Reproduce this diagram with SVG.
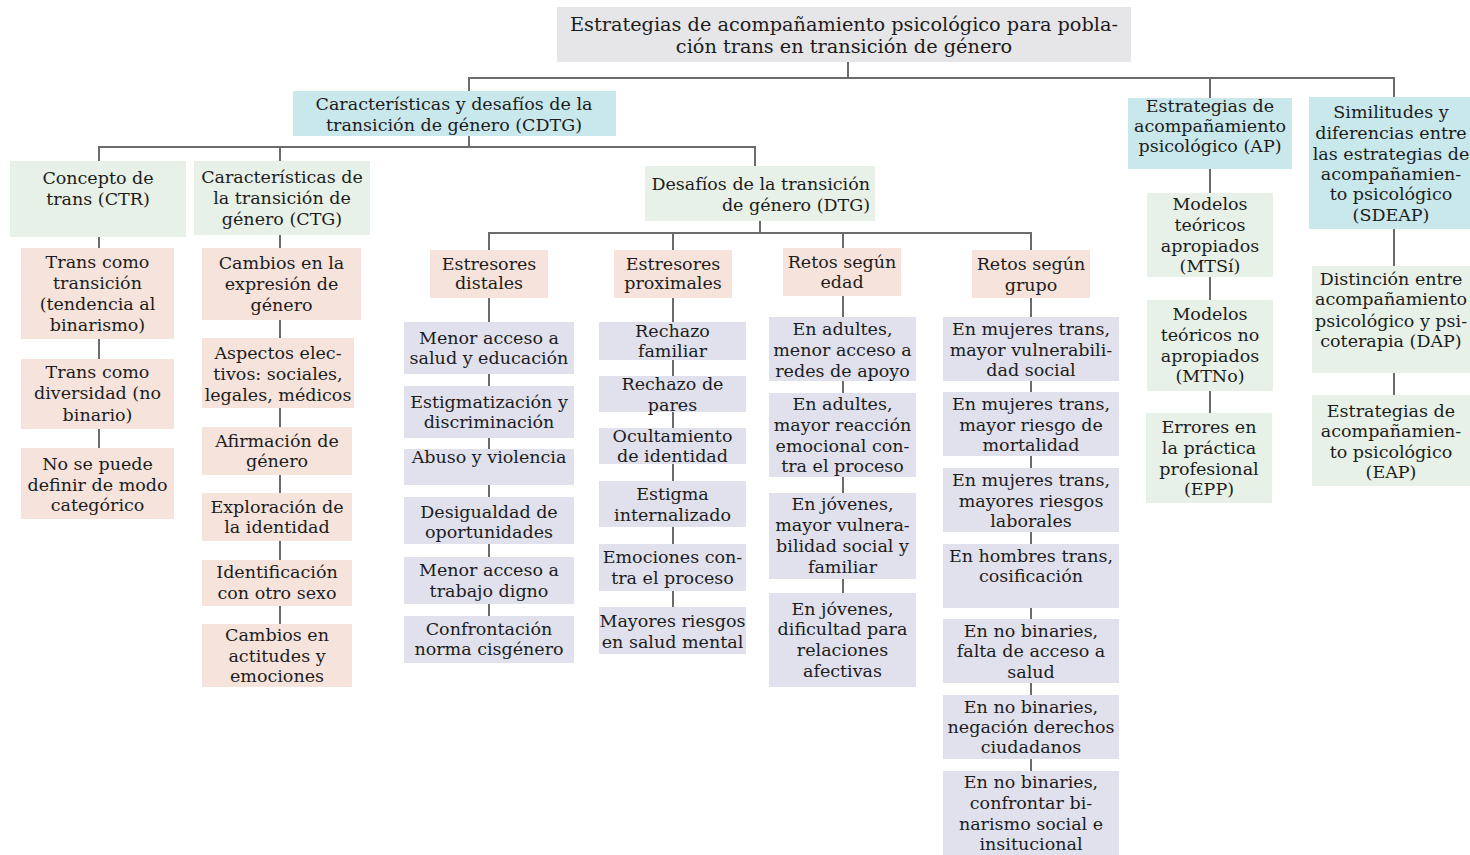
<svg xmlns="http://www.w3.org/2000/svg" width="1470" height="855" viewBox="0 0 1470 855">
<style>
.t{font-family:"DejaVu Serif","Liberation Serif",serif;font-size:17.5px;fill:#1c1c1c;text-anchor:middle}
.big{font-size:19.3px}
.e{text-anchor:end}
.gray{fill:#e6e6e8}.blue{fill:#c9e8ec}.green{fill:#e8f1e7}.peach{fill:#f6e4dc}.lav{fill:#e1e1ed}
.c{stroke:#6b6b6b;stroke-width:2;fill:none}
</style>
<rect width="1470" height="855" fill="#fff"/>
<g id="connectors" class="c">
<path d="M848,62V78M469,91V78H1394V97M1210,78V98"/>
<path d="M469,136V147M99,161V147H755V166M280,147V161"/>
<path d="M99,237V448M280,235V624"/>
<path d="M760,221V233M489,250V233H1031V250M673,233V250M843,233V248"/>
<path d="M489,298V616M673,298V607M843,296V593M1031,298V771"/>
<path d="M1210,169V413M1394,229V395"/>
</g>
<g id="title"><rect class="gray" x="557" y="7" width="574" height="55"/><text class="t big"><tspan x="844" y="31">Estrategias de acompañamiento psicológico para pobla-</tspan><tspan x="844" y="53">ción trans en transición de género</tspan></text></g>
<g id="cdtg"><rect class="blue" x="293" y="91" width="323" height="45"/><text class="t"><tspan x="454" y="110">Características y desafíos de la</tspan><tspan x="454" y="131">transición de género (CDTG)</tspan></text></g>
<g id="ap"><rect class="blue" x="1128" y="98" width="164" height="71"/><text class="t"><tspan x="1210" y="112">Estrategias de</tspan><tspan x="1210" y="132">acompañamiento</tspan><tspan x="1210" y="152">psicológico (AP)</tspan></text></g>
<g id="sdeap"><rect class="blue" x="1309" y="97" width="161" height="132"/><text class="t"><tspan x="1391" y="118">Similitudes y</tspan><tspan x="1391" y="139">diferencias entre</tspan><tspan x="1391" y="160">las estrategias de</tspan><tspan x="1391" y="180">acompañamien-</tspan><tspan x="1391" y="200">to psicológico</tspan><tspan x="1391" y="221">(SDEAP)</tspan></text></g>
<g id="ctr"><rect class="green" x="10" y="161" width="176" height="76"/><text class="t"><tspan x="98" y="184">Concepto de</tspan><tspan x="98" y="205">trans (CTR)</tspan></text></g>
<g id="ctg"><rect class="green" x="194" y="161" width="176" height="74"/><text class="t"><tspan x="282" y="183">Características de</tspan><tspan x="282" y="204">la transición de</tspan><tspan x="282" y="225">género (CTG)</tspan></text></g>
<g id="dtg"><rect class="green" x="645" y="166" width="230" height="55"/><text class="t e"><tspan x="870" y="190">Desafíos de la transición</tspan><tspan x="870" y="211">de género (DTG)</tspan></text></g>
<g id="ctr1"><rect class="peach" x="21" y="248" width="153" height="91"/><text class="t"><tspan x="97.5" y="268">Trans como</tspan><tspan x="97.5" y="289">transición</tspan><tspan x="97.5" y="310">(tendencia al</tspan><tspan x="97.5" y="331">binarismo)</tspan></text></g>
<g id="ctr2"><rect class="peach" x="21" y="359" width="153" height="70"/><text class="t"><tspan x="97.5" y="378">Trans como</tspan><tspan x="97.5" y="399">diversidad (no</tspan><tspan x="97.5" y="421">binario)</tspan></text></g>
<g id="ctr3"><rect class="peach" x="21" y="448" width="153" height="71"/><text class="t"><tspan x="97.5" y="470">No se puede</tspan><tspan x="97.5" y="491">definir de modo</tspan><tspan x="97.5" y="511">categórico</tspan></text></g>
<g id="ctg1"><rect class="peach" x="202" y="248" width="159" height="72"/><text class="t"><tspan x="281.5" y="269">Cambios en la</tspan><tspan x="281.5" y="290">expresión de</tspan><tspan x="281.5" y="311">género</tspan></text></g>
<g id="ctg2"><rect class="peach" x="202" y="338" width="152" height="70"/><text class="t"><tspan x="278" y="359">Aspectos elec-</tspan><tspan x="278" y="380">tivos: sociales,</tspan><tspan x="278" y="401">legales, médicos</tspan></text></g>
<g id="ctg3"><rect class="peach" x="202" y="427" width="150" height="48"/><text class="t"><tspan x="277" y="447">Afirmación de</tspan><tspan x="277" y="467">género</tspan></text></g>
<g id="ctg4"><rect class="peach" x="202" y="493" width="150" height="48"/><text class="t"><tspan x="277" y="513">Exploración de</tspan><tspan x="277" y="533">la identidad</tspan></text></g>
<g id="ctg5"><rect class="peach" x="202" y="560" width="150" height="46"/><text class="t"><tspan x="277" y="578">Identificación</tspan><tspan x="277" y="599">con otro sexo</tspan></text></g>
<g id="ctg6"><rect class="peach" x="202" y="624" width="150" height="63"/><text class="t"><tspan x="277" y="641">Cambios en</tspan><tspan x="277" y="662">actitudes y</tspan><tspan x="277" y="682">emociones</tspan></text></g>
<g id="distales"><rect class="peach" x="430" y="250" width="118" height="48"/><text class="t"><tspan x="489" y="270">Estresores</tspan><tspan x="489" y="289">distales</tspan></text></g>
<g id="proximales"><rect class="peach" x="614" y="250" width="118" height="48"/><text class="t"><tspan x="673" y="270">Estresores</tspan><tspan x="673" y="289">proximales</tspan></text></g>
<g id="edad"><rect class="peach" x="783" y="248" width="118" height="48"/><text class="t"><tspan x="842" y="268">Retos según</tspan><tspan x="842" y="288">edad</tspan></text></g>
<g id="grupo"><rect class="peach" x="972" y="250" width="118" height="48"/><text class="t"><tspan x="1031" y="270">Retos según</tspan><tspan x="1031" y="291">grupo</tspan></text></g>
<g id="d1"><rect class="lav" x="404" y="322" width="170" height="52"/><text class="t"><tspan x="489" y="344">Menor acceso a</tspan><tspan x="489" y="364">salud y educación</tspan></text></g>
<g id="d2"><rect class="lav" x="404" y="386" width="170" height="52"/><text class="t"><tspan x="489" y="408">Estigmatización y</tspan><tspan x="489" y="428">discriminación</tspan></text></g>
<g id="d3"><rect class="lav" x="404" y="449" width="170" height="36"/><text class="t"><tspan x="489" y="463">Abuso y violencia</tspan></text></g>
<g id="d4"><rect class="lav" x="404" y="497" width="170" height="47"/><text class="t"><tspan x="489" y="518">Desigualdad de</tspan><tspan x="489" y="538">oportunidades</tspan></text></g>
<g id="d5"><rect class="lav" x="404" y="557" width="170" height="47"/><text class="t"><tspan x="489" y="576">Menor acceso a</tspan><tspan x="489" y="597">trabajo digno</tspan></text></g>
<g id="d6"><rect class="lav" x="404" y="616" width="170" height="47"/><text class="t"><tspan x="489" y="635">Confrontación</tspan><tspan x="489" y="655">norma cisgénero</tspan></text></g>
<g id="p1"><rect class="lav" x="599" y="322" width="147" height="38"/><text class="t"><tspan x="672.5" y="337">Rechazo</tspan><tspan x="672.5" y="357">familiar</tspan></text></g>
<g id="p2"><rect class="lav" x="599" y="376" width="147" height="36"/><text class="t"><tspan x="672.5" y="390">Rechazo de</tspan><tspan x="672.5" y="411">pares</tspan></text></g>
<g id="p3"><rect class="lav" x="599" y="428" width="147" height="36"/><text class="t"><tspan x="672.5" y="442">Ocultamiento</tspan><tspan x="672.5" y="462">de identidad</tspan></text></g>
<g id="p4"><rect class="lav" x="599" y="481" width="147" height="46"/><text class="t"><tspan x="672.5" y="500">Estigma</tspan><tspan x="672.5" y="521">internalizado</tspan></text></g>
<g id="p5"><rect class="lav" x="599" y="544" width="147" height="47"/><text class="t"><tspan x="672.5" y="563">Emociones con-</tspan><tspan x="672.5" y="584">tra el proceso</tspan></text></g>
<g id="p6"><rect class="lav" x="599" y="607" width="147" height="47"/><text class="t"><tspan x="672.5" y="627">Mayores riesgos</tspan><tspan x="672.5" y="648">en salud mental</tspan></text></g>
<g id="e1"><rect class="lav" x="769" y="317" width="147" height="64"/><text class="t"><tspan x="842.5" y="335">En adultes,</tspan><tspan x="842.5" y="356">menor acceso a</tspan><tspan x="842.5" y="377">redes de apoyo</tspan></text></g>
<g id="e2"><rect class="lav" x="769" y="393" width="147" height="84"/><text class="t"><tspan x="842.5" y="410">En adultes,</tspan><tspan x="842.5" y="431">mayor reacción</tspan><tspan x="842.5" y="452">emocional con-</tspan><tspan x="842.5" y="472">tra el proceso</tspan></text></g>
<g id="e3"><rect class="lav" x="769" y="493" width="147" height="86"/><text class="t"><tspan x="842.5" y="510">En jóvenes,</tspan><tspan x="842.5" y="531">mayor vulnera-</tspan><tspan x="842.5" y="552">bilidad social y</tspan><tspan x="842.5" y="573">familiar</tspan></text></g>
<g id="e4"><rect class="lav" x="769" y="593" width="147" height="94"/><text class="t"><tspan x="842.5" y="615">En jóvenes,</tspan><tspan x="842.5" y="635">dificultad para</tspan><tspan x="842.5" y="656">relaciones</tspan><tspan x="842.5" y="677">afectivas</tspan></text></g>
<g id="g1"><rect class="lav" x="943" y="317" width="176" height="64"/><text class="t"><tspan x="1031" y="335">En mujeres trans,</tspan><tspan x="1031" y="356">mayor vulnerabili-</tspan><tspan x="1031" y="376">dad social</tspan></text></g>
<g id="g2"><rect class="lav" x="943" y="392" width="176" height="64"/><text class="t"><tspan x="1031" y="410">En mujeres trans,</tspan><tspan x="1031" y="431">mayor riesgo de</tspan><tspan x="1031" y="451">mortalidad</tspan></text></g>
<g id="g3"><rect class="lav" x="943" y="468" width="176" height="64"/><text class="t"><tspan x="1031" y="486">En mujeres trans,</tspan><tspan x="1031" y="507">mayores riesgos</tspan><tspan x="1031" y="527">laborales</tspan></text></g>
<g id="g4"><rect class="lav" x="943" y="544" width="176" height="64"/><text class="t"><tspan x="1031" y="562">En hombres trans,</tspan><tspan x="1031" y="582">cosificación</tspan></text></g>
<g id="g5"><rect class="lav" x="943" y="619" width="176" height="64"/><text class="t"><tspan x="1031" y="637">En no binaries,</tspan><tspan x="1031" y="657">falta de acceso a</tspan><tspan x="1031" y="678">salud</tspan></text></g>
<g id="g6"><rect class="lav" x="943" y="695" width="176" height="64"/><text class="t"><tspan x="1031" y="713">En no binaries,</tspan><tspan x="1031" y="733">negación derechos</tspan><tspan x="1031" y="753">ciudadanos</tspan></text></g>
<g id="g7"><rect class="lav" x="943" y="771" width="176" height="84"/><text class="t"><tspan x="1031" y="788">En no binaries,</tspan><tspan x="1031" y="809">confrontar bi-</tspan><tspan x="1031" y="830">narismo social e</tspan><tspan x="1031" y="850">insitucional</tspan></text></g>
<g id="mtsi"><rect class="green" x="1147" y="193" width="126" height="84"/><text class="t"><tspan x="1210" y="210">Modelos</tspan><tspan x="1210" y="231">teóricos</tspan><tspan x="1210" y="252">apropiados</tspan><tspan x="1210" y="272">(MTSí)</tspan></text></g>
<g id="mtno"><rect class="green" x="1147" y="300" width="126" height="91"/><text class="t"><tspan x="1210" y="320">Modelos</tspan><tspan x="1210" y="341">teóricos no</tspan><tspan x="1210" y="362">apropiados</tspan><tspan x="1210" y="382">(MTNo)</tspan></text></g>
<g id="epp"><rect class="green" x="1146" y="413" width="126" height="90"/><text class="t"><tspan x="1209" y="433">Errores en</tspan><tspan x="1209" y="454">la práctica</tspan><tspan x="1209" y="475">profesional</tspan><tspan x="1209" y="495">(EPP)</tspan></text></g>
<g id="dap"><rect class="green" x="1312" y="266" width="158" height="107"/><text class="t"><tspan x="1391" y="285">Distinción entre</tspan><tspan x="1391" y="305">acompañamiento</tspan><tspan x="1391" y="327">psicológico y psi-</tspan><tspan x="1391" y="347">coterapia (DAP)</tspan></text></g>
<g id="eap"><rect class="green" x="1312" y="395" width="158" height="91"/><text class="t"><tspan x="1391" y="417">Estrategias de</tspan><tspan x="1391" y="437">acompañamien-</tspan><tspan x="1391" y="458">to psicológico</tspan><tspan x="1391" y="478">(EAP)</tspan></text></g>
</svg>
